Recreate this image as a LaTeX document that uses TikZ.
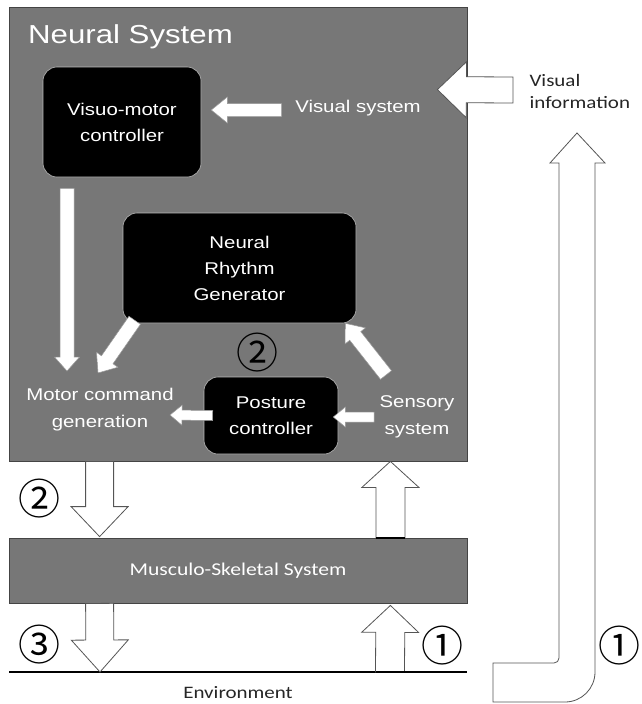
\documentclass[tikz,border=0pt]{standalone}
\usepackage{fontspec}
\setmainfont{Liberation Sans}[FakeStretch=1.2]
\newfontfamily\calfont{Carlito}[FakeStretch=1.2]
\newfontfamily\circfont{Noto Sans CJK JP}
\usepackage{xcolor}
\definecolor{sysgray}{HTML}{777777}
\definecolor{edgegray}{HTML}{444444}
\definecolor{boxline}{HTML}{BBBBBB}
\definecolor{inkgray}{HTML}{555555}
\usepackage{tikz}

% block arrow: [style]{from}{to}{shaft half}{head half}{head length}
\newcommand\fatarrow[6][]{%
  \path (#2); \pgfgetlastxy{\fax}{\fay}%
  \path (#3); \pgfgetlastxy{\fbx}{\fby}%
  \pgfmathsetmacro\fang{atan2(\fby-\fay,\fbx-\fax)}%
  \pgfmathsetmacro\flen{veclen(\fbx-\fax,\fby-\fay)}%
  \begin{scope}[shift={(\fax,\fay)},rotate=\fang]
    \draw[#1] (0,-#4) -- ({\flen-#6},-#4) -- ({\flen-#6},-#5) -- (\flen,0)
      -- ({\flen-#6},#5) -- ({\flen-#6},#4) -- (0,#4) -- cycle;
  \end{scope}}

\begin{document}
\begin{tikzpicture}[x=1pt,y=-1pt,
  sysbox/.style={draw=edgegray,fill=sysgray,line width=0.8pt,inner sep=0pt},
  ctrlbox/.style={draw=boxline,fill=black,rounded corners=14pt,line width=0.6pt,
                  text=white,align=center,inner sep=0pt,
                  font=\fontsize{17}{26}\selectfont},
  wlabel/.style={text=white,align=center,font=\fontsize{17}{27}\selectfont},
  blabel/.style={text=black!85,font=\calfont\fontsize{17.5}{22}\selectfont},
  circnum/.style={font=\circfont\fontsize{42}{42}\selectfont,inner sep=0pt},
  inarrow/.style={fill=white,draw=gray!80,line width=0.5pt},
  outarrow/.style={fill=white,draw=inkgray,line width=0.8pt}]

  \useasboundingbox (0,0) rectangle (641,704);

  % neural system
  \node[sysbox,minimum width=458pt,minimum height=454pt] (neural) at (238,234) {};
  \node[anchor=west,text=white,inner sep=0pt,font=\fontsize{26}{26}\selectfont]
    (title) at (28,37) {Neural System};

  \node[ctrlbox,minimum width=158pt,minimum height=110pt] (visuo) at (122,122)
    {Visuo-motor\\controller};
  \node[ctrlbox,minimum width=233pt,minimum height=110pt] (rhythm) at (239.5,268)
    {Neural\\Rhythm\\Generator};
  \node[ctrlbox,minimum width=134pt,minimum height=77pt] (posture) at (271,415.5)
    {Posture\\controller};

  \node[wlabel] (vissys)  at (358,108) {Visual system};
  \node[wlabel] (motor)   at (100,410) {Motor command\\generation};
  \node[wlabel] (sensory) at (417,417) {Sensory\\system};
  \node[circnum] (twoin)  at (257,353) {②};

  % arrows inside
  \fatarrow[inarrow]{[shift={(-10,2)}]vissys.west}{[shift={(10,-12)}]visuo.east}{6.5}{13}{16}
  \fatarrow[inarrow]{[shift={(-55,11)}]visuo.south}{[shift={(-33,-39)}]motor.center}{7}{12.5}{14}
  \fatarrow[inarrow]{[shift={(12,-3)}]rhythm.south west}{[shift={(-2,-37)}]motor.center}{7}{13}{16}
  \fatarrow[inarrow]{[shift={(-31,-42)}]sensory.center}{[shift={(-11,0)}]rhythm.south east}{7}{13}{16}
  \fatarrow[inarrow]{[shift={(9,0)}]posture.west}{[shift={(70,5)}]motor.center}{5}{10}{12}
  \fatarrow[inarrow]{[shift={(-43,0)}]sensory.center}{[shift={(-5,1.5)}]posture.east}{5}{10}{12}

  % musculo-skeletal system and environment
  \node[sysbox,minimum width=458pt,minimum height=65pt,text=white,
        font=\calfont\fontsize{18}{18}\selectfont] (musculo) at (238,570.5)
    {Musculo-Skeletal System};
  \coordinate (envl) at (9,672);
  \coordinate (envr) at (467,672);
  \draw[line width=2pt] (envl) -- (envr);
  \node[blabel] (env) at (238,693) {Environment};

  % arrows outside
  \node[blabel,anchor=west,align=left] (visinfo) at (526,91) {Visual\\information};
  \fatarrow[outarrow]{[shift={(-13,-1)}]visinfo.west}{[shift={(-30,83)}]neural.north east}{13}{28}{29}
  \fatarrow[outarrow]{[shift={(91,0)}]neural.south west}{[shift={(91,-1)}]musculo.north west}{14}{28.5}{30}
  \fatarrow[outarrow]{[shift={(-77,0)}]musculo.north east}{[shift={(-77,0)}]neural.south east}{14.5}{28.5}{26}
  \fatarrow[outarrow]{[shift={(91,0)}]musculo.south west}{[shift={(91,0)}]envl}{14}{28.5}{32}
  \fatarrow[outarrow]{[shift={(-77,0)}]envr}{[shift={(-77,2)}]musculo.south east}{14.5}{28.5}{27}
  \draw[line width=2pt] ([shift={(-91.5,0)}]musculo.north east) -- ([shift={(-62.5,0)}]musculo.north east);
  \draw[line width=2pt] ([shift={(-91.5,0)}]envr) -- ([shift={(-62.5,0)}]envr);

  % long bent arrow
  \draw[outarrow] (493,663) -- (554,663) .. controls (556.8,663) and (559,660.8) .. (559,658)
    -- (559,163) -- (550,163) -- (577,133) -- (605,163) -- (595,163) -- (595,672)
    .. controls (595,688.6) and (581.6,702) .. (565,702) -- (493,702) -- cycle;

  % step numbers
  \node[circnum] (twoout) at (40,499) {②};
  \node[circnum] (three)  at (40,645) {③};
  \node[circnum] (onein)  at (442,646) {①};
  \node[circnum] (oneout) at (619,646) {①};
\end{tikzpicture}
\end{document}
